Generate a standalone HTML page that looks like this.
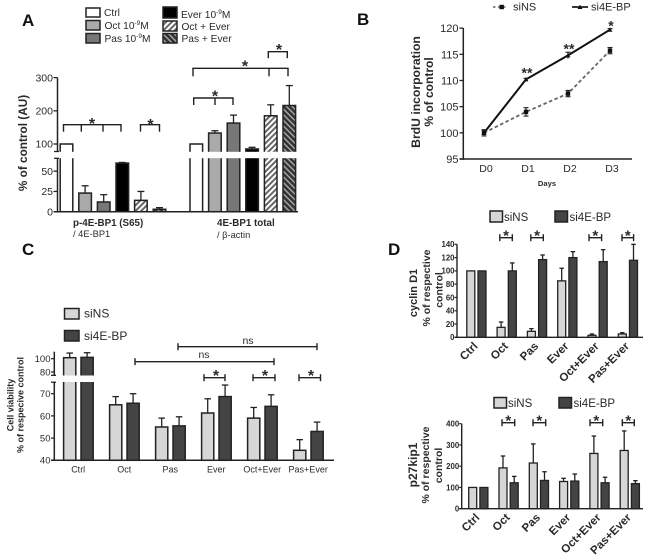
<!DOCTYPE html>
<html lang="en">
<head>
<meta charset="utf-8">
<title>Multi-panel figure</title>
<style>
html,body{margin:0;padding:0;background:#fff;width:650px;height:558px;overflow:hidden}
svg{display:block;filter:blur(0.35px)}
text{font-family:"Liberation Sans",sans-serif;fill:#2a2a2a}
</style>
</head>
<body>
<svg id="fig" xmlns="http://www.w3.org/2000/svg" width="650" height="558" viewBox="0 0 650 558">
<defs>
<pattern id="hatchLight" patternUnits="userSpaceOnUse" width="4" height="4" patternTransform="rotate(45)">
<rect width="4" height="4" fill="#fff"/><rect width="2" height="4" fill="#666"/>
</pattern>
<pattern id="hatchDark" patternUnits="userSpaceOnUse" width="4" height="4" patternTransform="rotate(-45)">
<rect width="4" height="4" fill="#aaa"/><rect width="2.6" height="4" fill="#333"/>
</pattern>
</defs>
</svg>
<script>
// Panel A data
const aTreatments = ['Ctrl','Oct','Pas','Ever','Oct+Ever','Pas+Ever'];
const aPhosphoValues = [100,23,12,60,14,3];
const aPhosphoErrTops = [100,32,21,60.8,25,5];
const aTotalValues = [100,133,163,85,185,216];
const aTotalErrTops = [100,140,187,90,218,276];
const aLowerTicks = [0,25,50];
const aUpperTicks = [100,200,300];

// Panel B data
const bDays = ['D0','D1','D2','D3'];
const bSiNS = [100,104,107.5,115.7];
const bSiNSErr = [0.6,0.8,0.6,0.6];
const bSi4E = [100,110.2,114.8,119.7];
const bSi4EErr = [0.5,0.2,0.6,0.2];
const bTicks = [95,100,105,110,115,120];

// Panel C data
const cCategories = ['Ctrl','Oct','Pas','Ever','Oct+Ever','Pas+Ever'];
const cSiNS = [101.5,65,55,61.3,59,44.5];
const cSiNSErrTops = [108.5,68.7,59,67.7,63.8,49.3];
const cSi4E = [102,65.7,55.5,68.7,64.3,53];
const cSi4EErrTops = [109,70,59.6,73.9,69.5,57.2];
const cLowerTicks = [40,50,60,70];
const cUpperTicks = [80,100];

// Panel D data
const dCategories = ['Ctrl','Oct','Pas','Ever','Oct+Ever','Pas+Ever'];
const d1SiNS = [100,15,9,85,3,5];
const d1SiNSErrTops = [100,23,13,104,5,7];
const d1Si4E = [100,100,117,120,114,116];
const d1Si4EErrTops = [100,112,124,129,132,140];
const d1Ticks = [0,20,40,60,80,100,120,140];
const d2SiNS = [100,192,215,128,260,274];
const d2SiNSErrTops = [100,248,305,143,342,366];
const d2Si4E = [100,122,133,130,122,118];
const d2Si4EErrTops = [100,152,174,163,148,132];
const d2Ticks = [0,100,200,300,400];

const NS = 'http://www.w3.org/2000/svg';
const fig = document.getElementById('fig');
const INK = '#222';

function el(tag, attrs, name, parent) {
  const e = document.createElementNS(NS, tag);
  for (const k in attrs) e.setAttribute(k, attrs[k]);
  
  
  (parent || fig).appendChild(e);
  return e;
}
function group(name) { return el('g', {}, name); }
function line(x1, y1, x2, y2, name, p, w, extra) {
  return el('line', Object.assign({x1, y1, x2, y2, stroke: INK, 'stroke-width': w || 1.5}, extra || {}), name, p);
}
function text(str, x, y, size, name, p, opt) {
  const o = opt || {};
  const a = {x, y, 'font-size': size};
  if (o.anchor) a['text-anchor'] = o.anchor;
  if (o.bold) a['font-weight'] = 'bold';
  if (o.transform) a.transform = o.transform;
  if (o.fill) a.style = 'fill:' + o.fill;
  const t = el('text', a, name, p);
  t.textContent = str;
  return t;
}
function vtext(str, x, cy, size, name, p, bold) {
  return text(str, x, cy, size, name, p, {anchor: 'middle', bold: bold, transform: 'rotate(-90 ' + x + ' ' + cy + ')'});
}
function star(x, cy, p, str, size) {
  const fs = size || 16;
  return text(str || '*', x, cy + fs * 0.56, fs, 'significance-star', p, {anchor: 'middle', bold: true});
}
function box(x, y, w, h, fill, name, p, sw) {
  return el('rect', {x, y, width: w, height: h, fill, stroke: INK, 'stroke-width': sw || 1.5}, name, p);
}
function bar(x, w, yTop, yBase, fill, errY, capW, name, p, sw) {
  box(x, yTop, w, yBase - yTop, fill, name, p, sw);
  if (errY < yTop - 0.3) {
    const c = x + w / 2;
    line(c, yTop, c, errY, name + '-error', p, 1.3);
    line(c - capW / 2, errY, c + capW / 2, errY, name + '-error-cap', p, 1.3);
  }
}
function capBracket(x1, x2, y, p, name) {
  line(x1, y, x2, y, name, p, 1.4);
  line(x1, y - 3.5, x1, y + 3.5, name + '-end', p, 1.4);
  line(x2, y - 3.5, x2, y + 3.5, name + '-end', p, 1.4);
}
function downBracket(x1, x2, y, drop, mids, p, name) {
  line(x1 - 0.7, y, x2 + 0.7, y, name, p, 1.4);
  [x1].concat(mids, [x2]).forEach(function (x) {
    line(x, y, x, y + drop, name + '-drop', p, 1.4);
  });
}

/* ===== Panel A ===== */
(function () {
  const g = group('panel-a');
  text('A', 22, 26, 17, 'panel-a-label', g, {bold: true, fill: '#111'});
  const yA = function (v) {
    return v <= 65 ? 211.7 - v * 0.81 : 144 - (v - 100) * 0.332;
  };
  const fills = ['#fff', '#aaa', '#777', '#000', 'url(#hatchLight)', 'url(#hatchDark)'];
  const step = 18.6, w = 12.6;
  const xP = function (i) { return 60.2 + i * step; };
  const xT = function (i) { return 190 + i * step; };

  aPhosphoValues.forEach(function (v, i) {
    bar(xP(i), w, yA(v), 211.7, fills[i], yA(aPhosphoErrTops[i]), 7, 'bar-phospho-' + aTreatments[i].toLowerCase().replace('+', '-'), g);
  });
  aTotalValues.forEach(function (v, i) {
    bar(xT(i), w, yA(v), 211.7, fills[i], yA(aTotalErrTops[i]), 7, 'bar-total-' + aTreatments[i].toLowerCase().replace('+', '-'), g);
  });
  el('rect', {x: 50, y: 151.8, width: 250, height: 6.4, fill: '#fff'}, 'axis-break-gap', g);

  line(57.5, 77.7, 57.5, 151.5, 'y-axis-upper', g);
  line(57.5, 158.3, 57.5, 212, 'y-axis-lower', g);
  line(54, 151.5, 59, 151.5, 'axis-break-mark', g, 1.3);
  line(54, 158.3, 59, 158.3, 'axis-break-mark', g, 1.3);
  line(54, 211.7, 298, 211.7, 'x-axis', g);

  aUpperTicks.concat(aLowerTicks).forEach(function (t) {
    line(53.5, yA(t), 57.5, yA(t), 'y-tick', g, 1.3);
    text(String(t), 53, yA(t) + 3.7, 10.5, 'y-tick-label', g, {anchor: 'end'});
  });
  vtext('% of control (AU)', 27, 143, 11.8, 'y-axis-title', g, true);

  text('p-4E-BP1 (S65)', 73, 226, 9.8, 'group-label-phospho', g, {bold: true});
  text('/ 4E-BP1', 73, 237, 9.3, 'group-sublabel-phospho', g);
  text('4E-BP1 total', 217, 226, 9.8, 'group-label-total', g, {bold: true});
  text('/ β-actin', 217, 238, 9.3, 'group-sublabel-total', g);

  downBracket(63.5, 121, 124.7, 7, [81.3, 103], g, 'bracket-phospho-1');
  star(92, 120, g);
  downBracket(140.5, 159.5, 124.7, 7, [], g, 'bracket-phospho-2');
  star(150.5, 121, g);
  downBracket(193.7, 233, 98, 7, [215], g, 'bracket-total-1');
  star(215, 92.5, g);
  downBracket(193, 288, 68.3, 8, [269], g, 'bracket-total-2');
  star(245, 62.5, g);
  downBracket(268.3, 287.3, 51.7, 6.5, [], g, 'bracket-total-3');
  star(279, 46, g);

  const lg = el('g', {}, 'legend-a', g);
  const entries = [
    [86, 8, 14, 9, '#fff', 'Ctrl', 104, 16],
    [86, 20.5, 14, 9.5, '#aaa', 'Oct 10', 104.5, 29],
    [86, 33.5, 14, 9.5, '#777', 'Pas 10', 104.5, 42],
    [163, 7, 14, 11, '#000', 'Ever 10', 181, 18],
    [163, 21, 14, 10, 'url(#hatchLight)', 'Oct + Ever', 181.5, 30],
    [163, 33.5, 14, 9.5, 'url(#hatchDark)', 'Pas + Ever', 181.5, 42]
  ];
  entries.forEach(function (e) {
    box(e[0], e[1], e[2], e[3], e[4], 'legend-swatch', lg);
    const t = text(e[5], e[6], e[7], 10.2, 'legend-entry', lg);
    if (/10$/.test(e[5])) {
      const s = document.createElementNS(NS, 'tspan');
      s.setAttribute('font-size', '6.5');
      s.setAttribute('dy', '-4');
      s.textContent = '-9';
      t.appendChild(s);
      const m = document.createElementNS(NS, 'tspan');
      m.setAttribute('dy', '4');
      m.textContent = 'M';
      t.appendChild(m);
    }
  });
})();

/* ===== Panel B ===== */
(function () {
  const g = group('panel-b');
  text('B', 357, 25, 17, 'panel-b-label', g, {bold: true, fill: '#111'});
  const yB = function (v) { return 159 - (v - 95) * 5.235; };
  const xB = function (i) { return 484 + i * 42; };

  line(463.3, 28, 463.3, 159.7, 'y-axis', g);
  line(459.5, 159, 632, 159, 'x-axis', g);
  bTicks.forEach(function (t) {
    line(459.5, yB(t), 463.3, yB(t), 'y-tick', g, 1.3);
    text(String(t), 458.5, yB(t) + 4, 11, 'y-tick-label', g, {anchor: 'end'});
  });
  bDays.forEach(function (d, i) {
    text(d, xB(i) + 2, 172, 10.5, 'x-tick-label', g, {anchor: 'middle'});
  });
  text('Days', 547, 186, 7.6, 'x-axis-title', g, {anchor: 'middle', bold: true});
  vtext('BrdU incorporation', 420, 92, 12.2, 'y-axis-title-line-1', g, true);
  vtext('% of control', 433, 92, 12, 'y-axis-title-line-2', g, true);

  const ptsN = bSiNS.map(function (v, i) { return xB(i) + ',' + yB(v); }).join(' ');
  el('polyline', {points: ptsN, fill: 'none', stroke: '#666', 'stroke-width': 1.8, 'stroke-dasharray': '3.5 2.5'}, 'line-sins', g);
  const pts4 = bSi4E.map(function (v, i) { return xB(i) + ',' + yB(v); }).join(' ');
  el('polyline', {points: pts4, fill: 'none', stroke: '#111', 'stroke-width': 2}, 'line-si4e-bp', g);

  bSiNS.forEach(function (v, i) {
    const x = xB(i);
    line(x, yB(v + bSiNSErr[i]), x, yB(v - bSiNSErr[i]), 'sins-error', g, 1.2);
    line(x - 2.5, yB(v + bSiNSErr[i]), x + 2.5, yB(v + bSiNSErr[i]), 'sins-error-cap', g, 1.1);
    line(x - 2.5, yB(v - bSiNSErr[i]), x + 2.5, yB(v - bSiNSErr[i]), 'sins-error-cap', g, 1.1);
    el('rect', {x: x - 2.2, y: yB(v) - 2.2, width: 4.4, height: 4.4, fill: '#111'}, 'point-sins', g);
  });
  bSi4E.forEach(function (v, i) {
    const x = xB(i), y = yB(v);
    line(x, yB(v + bSi4EErr[i]), x, yB(v - bSi4EErr[i]), 'si4e-error', g, 1.2);
    line(x - 2.5, yB(v + bSi4EErr[i]), x + 2.5, yB(v + bSi4EErr[i]), 'si4e-error-cap', g, 1.1);
    el('polygon', {points: (x - 2.4) + ',' + (y + 2) + ' ' + (x + 2.4) + ',' + (y + 2) + ' ' + x + ',' + (y - 2.4), fill: '#111'}, 'point-si4e-bp', g);
  });

  star(527, 69.5, g, '**', 14);
  star(569, 45.5, g, '**', 14);
  star(611, 22.5, g, '*', 14);

  const lg = el('g', {}, 'legend-b', g);
  line(493, 7, 508, 7, 'legend-line-sins', lg, 1.6, {'stroke-dasharray': '2.5 2.5', stroke: '#666'});
  el('rect', {x: 499.5, y: 4.8, width: 4.4, height: 4.4, fill: '#111'}, 'legend-marker-sins', lg);
  text('siNS', 513, 10.5, 11, 'legend-entry', lg);
  line(572, 7, 588, 7, 'legend-line-si4e-bp', lg, 1.8);
  el('polygon', {points: '577.5,9 582.5,9 580,4.6', fill: '#111'}, 'legend-marker-si4e-bp', lg);
  text('si4E-BP', 591, 10.5, 11, 'legend-entry', lg);
})();

/* ===== Panel C ===== */
(function () {
  const g = group('panel-c');
  text('C', 22, 255, 17, 'panel-c-label', g, {bold: true, fill: '#111'});
  const yC = function (v) {
    return v >= 78 ? 358.7 - (v - 100) * 0.665 : 460.3 - (v - 40) * 2.22;
  };
  const step = 46, w = 12.2;
  const xN = function (i) { return 63.6 + i * step; };
  const x4 = function (i) { return 81 + i * step; };

  cCategories.forEach(function (c, i) {
    const key = c.toLowerCase().replace('+', '-');
    bar(xN(i), w, yC(cSiNS[i]), 460.3, '#d6d6d6', yC(cSiNSErrTops[i]), 6.5, 'bar-sins-' + key, g);
    bar(x4(i), w, yC(cSi4E[i]), 460.3, '#444', yC(cSi4EErrTops[i]), 6.5, 'bar-si4e-bp-' + key, g);
    text(c, xN(i) + 14.6, 472.5, 9, 'x-tick-label', g, {anchor: 'middle'});
  });
  el('rect', {x: 48, y: 375.5, width: 50, height: 6.5, fill: '#fff'}, 'axis-break-gap', g);

  line(54.3, 351.7, 54.3, 375.3, 'y-axis-upper', g);
  line(54.3, 382.2, 54.3, 460.5, 'y-axis-lower', g);
  line(51, 375.3, 56, 375.3, 'axis-break-mark', g, 1.3);
  line(51, 382.2, 56, 382.2, 'axis-break-mark', g, 1.3);
  line(51, 460.3, 334, 460.3, 'x-axis', g);

  cUpperTicks.concat(cLowerTicks).forEach(function (t) {
    line(51, yC(t), 54.3, yC(t), 'y-tick', g, 1.2);
    text(String(t), 50.5, yC(t) + 3.4, 9.5, 'y-tick-label', g, {anchor: 'end'});
  });
  vtext('Cell viability', 13.5, 405, 9, 'y-axis-title-line-1', g, true);
  vtext('% of respecive control', 23.5, 405, 9, 'y-axis-title-line-2', g, true);

  capBracket(135, 274, 361.7, g, 'bracket-ns-1');
  text('ns', 204, 358, 10.5, 'ns-label', g, {anchor: 'middle'});
  capBracket(178, 317, 346.7, g, 'bracket-ns-2');
  text('ns', 248, 344, 10.5, 'ns-label', g, {anchor: 'middle'});
  capBracket(204, 225, 377.7, g, 'bracket-ever');
  star(216, 372, g);
  capBracket(253, 275, 377.7, g, 'bracket-oct-ever');
  star(265, 372, g);
  capBracket(299, 320.5, 377.7, g, 'bracket-pas-ever');
  star(311, 372, g);

  const lg = el('g', {}, 'legend-c', g);
  box(64.5, 308.5, 14.5, 10.5, '#d6d6d6', 'legend-swatch-sins', lg);
  text('siNS', 84, 317.5, 12, 'legend-entry', lg);
  box(64.5, 330.5, 14.5, 10.5, '#444', 'legend-swatch-si4e-bp', lg);
  text('si4E-BP', 84, 340, 12, 'legend-entry', lg);
})();

/* ===== Panel D ===== */
function panelD(cfg) {
  const g = cfg.g;
  const y = cfg.y;
  const step = 30.3, w = 8;
  dCategories.forEach(function (c, i) {
    const key = cfg.key + '-' + c.toLowerCase().replace('+', '-');
    const xa = cfg.x0 + i * step;
    const xb = xa + 11.2;
    bar(xa, w, y(cfg.n[i]), cfg.base, '#d6d6d6', y(cfg.nTop[i]), 4.5, 'bar-sins-' + key, g, 1.3);
    bar(xb, w, y(cfg.s[i]), cfg.base, '#444', y(cfg.sTop[i]), 4.5, 'bar-si4e-bp-' + key, g, 1.3);
    const ax = xb + 0.4, ay = cfg.base + 9.5;
    text(c, ax, ay, 11.5, 'x-tick-label', g, {anchor: 'end', bold: true, transform: 'rotate(-45 ' + ax + ' ' + ay + ')'});
  });
  line(cfg.axisX, y(cfg.ticks[cfg.ticks.length - 1]), cfg.axisX, cfg.base + 0.5, 'y-axis', g, 1.4);
  line(cfg.axisX - 2.5, cfg.base, 643, cfg.base, 'x-axis', g, 1.4);
  cfg.ticks.forEach(function (t) {
    line(cfg.axisX - 2.5, y(t), cfg.axisX, y(t), 'y-tick', g, 1.2);
    text(String(t), cfg.axisX - 2.5, y(t) + 2.8, 7.8, 'y-tick-label', g, {anchor: 'end', bold: true});
  });
  cfg.brackets.forEach(function (b) {
    capBracket(b[0], b[1], cfg.brY, g, 'bracket-' + cfg.key);
    star((b[0] + b[1]) / 2, cfg.brY - 5.5, g, '*', 15);
  });
}

(function () {
  const g = group('panel-d-cyclin');
  text('D', 388, 255, 17, 'panel-d-label', g, {bold: true, fill: '#111'});
  panelD({
    g: g, key: 'cyclin', x0: 466.8, axisX: 457, base: 337.3,
    y: function (v) { return 337.3 - v * 0.664; },
    n: d1SiNS, nTop: d1SiNSErrTops, s: d1Si4E, sTop: d1Si4EErrTops, ticks: d1Ticks,
    brY: 237.7,
    brackets: [[499.8, 512.3], [530.8, 543.3], [589, 601.6], [622, 633.6]]
  });
  vtext('cyclin D1', 417, 293, 11, 'y-axis-title-line-1', g, true);
  vtext('% of respective', 430, 288, 10.5, 'y-axis-title-line-2', g, true);
  vtext('control', 442.5, 290, 10.5, 'y-axis-title-line-3', g, true);
  const lg = el('g', {}, 'legend-d-cyclin', g);
  box(490, 211, 12.5, 11, '#d6d6d6', 'legend-swatch-sins', lg);
  text('siNS', 504, 221, 11.5, 'legend-entry', lg);
  box(555, 211, 12.5, 11, '#444', 'legend-swatch-si4e-bp', lg);
  text('si4E-BP', 569.5, 221, 11.5, 'legend-entry', lg);
})();

(function () {
  const g = group('panel-d-p27');
  panelD({
    g: g, key: 'p27', x0: 468.7, axisX: 461.7, base: 508.7,
    y: function (v) { return 508.7 - v * 0.2125; },
    n: d2SiNS, nTop: d2SiNSErrTops, s: d2Si4E, sTop: d2Si4EErrTops, ticks: d2Ticks,
    brY: 422.7,
    brackets: [[502, 514.7], [533, 545.7], [590, 602.7], [622.3, 634.3]]
  });
  vtext('p27kip1', 417, 465, 12, 'y-axis-title-line-1', g, true);
  vtext('% of respective', 429, 465, 10.5, 'y-axis-title-line-2', g, true);
  vtext('control', 442, 465.5, 10.5, 'y-axis-title-line-3', g, true);
  const lg = el('g', {}, 'legend-d-p27', g);
  box(494, 397.5, 12.5, 10.5, '#d6d6d6', 'legend-swatch-sins', lg);
  text('siNS', 508, 407, 11.5, 'legend-entry', lg);
  box(559, 397.5, 12.5, 10.5, '#444', 'legend-swatch-si4e-bp', lg);
  text('si4E-BP', 573.5, 407, 11.5, 'legend-entry', lg);
})();
</script>
</body>
</html>
